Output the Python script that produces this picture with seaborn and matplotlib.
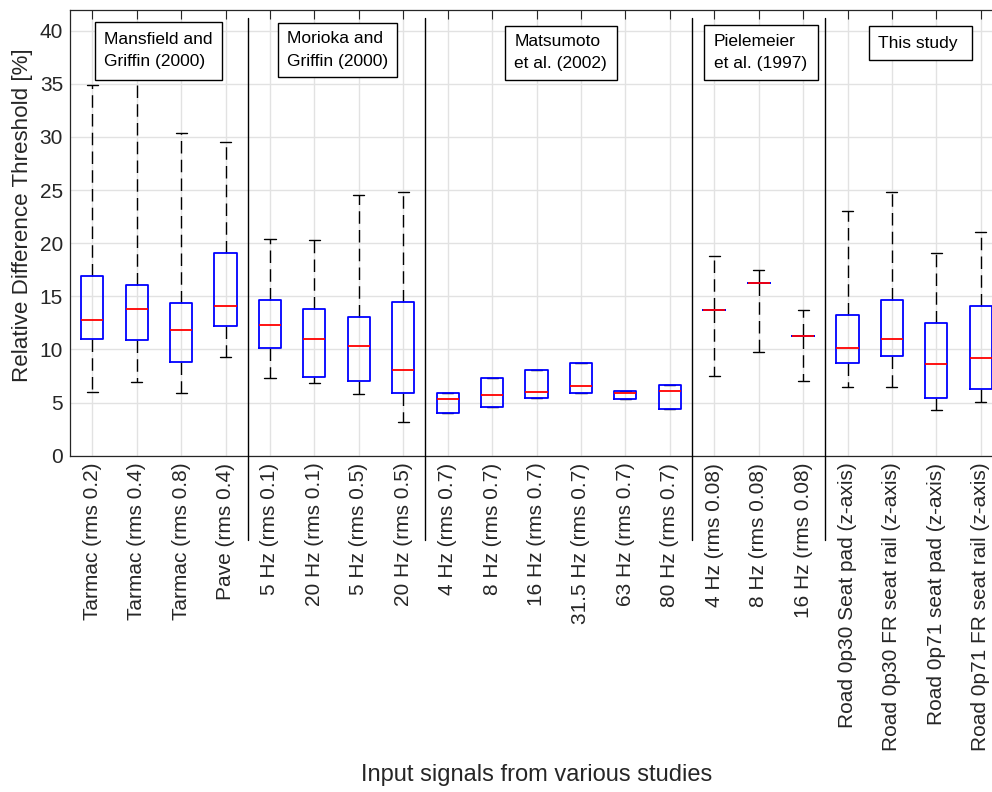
import numpy as np
import pandas as pd
import matplotlib
matplotlib.use("Agg")
import matplotlib.pyplot as plt
import seaborn as sns
from matplotlib.patches import Rectangle

# Input signals, one box per signal
signals = [
    "Tarmac (rms 0.2)", "Tarmac (rms 0.4)", "Tarmac (rms 0.8)", "Pave (rms 0.4)",
    "5 Hz (rms 0.1)", "20 Hz (rms 0.1)", "5 Hz (rms 0.5)", "20 Hz (rms 0.5)",
    "4 Hz (rms 0.7)", "8 Hz (rms 0.7)", "16 Hz (rms 0.7)", "31.5 Hz (rms 0.7)",
    "63 Hz (rms 0.7)", "80 Hz (rms 0.7)",
    "4 Hz (rms 0.08)", "8 Hz (rms 0.08)", "16 Hz (rms 0.08)",
    "Road 0p30 Seat pad (z-axis)", "Road 0p30 FR seat rail (z-axis)",
    "Road 0p71 seat pad (z-axis)", "Road 0p71 FR seat rail (z-axis)",
]

# Five-number summaries of the relative difference threshold [%]
whisker_low = [6.0, 6.9, 5.9, 9.3, 7.3, 6.8, 5.8, 3.2,
               4.0, 4.6, 5.4, 5.9, 5.3, 4.4,
               7.5, 9.8, 7.0, 6.5, 6.45, 4.3, 5.05]
quartile_1 = [11.0, 10.9, 8.8, 12.2, 10.1, 7.4, 7.0, 5.9,
              4.0, 4.6, 5.4, 5.9, 5.3, 4.4,
              13.7, 16.25, 11.3, 8.7, 9.4, 5.45, 6.3]
median = [12.8, 13.8, 11.8, 14.1, 12.3, 11.0, 10.3, 8.1,
          5.3, 5.7, 6.0, 6.6, 5.9, 6.1,
          13.7, 16.25, 11.3, 10.1, 11.0, 8.6, 9.2]
quartile_3 = [16.9, 16.1, 14.4, 19.1, 14.7, 13.8, 13.1, 14.5,
              5.9, 7.3, 8.1, 8.7, 6.1, 6.7,
              13.7, 16.25, 11.3, 13.2, 14.65, 12.5, 14.1]
whisker_high = [34.9, 36.1, 30.4, 29.5, 20.4, 20.3, 24.5, 24.8,
                5.9, 7.3, 8.1, 8.7, 6.1, 6.7,
                18.8, 17.5, 13.7, 23.0, 24.8, 19.1, 21.05]

# Studies: caption and number of signals in each
study_names = ["Mansfield and\nGriffin (2000)", "Morioka and\nGriffin (2000)",
               "Matsumoto\net al. (2002)", "Pielemeier\net al. (1997)", "This study"]
study_sizes = [4, 4, 6, 3, 4]

# Long-form table: five values per signal reproduce its summary exactly
rows = []
for i, s in enumerate(signals):
    for v in (whisker_low[i], quartile_1[i], median[i], quartile_3[i], whisker_high[i]):
        rows.append({"signal": s, "threshold": v})
df = pd.DataFrame(rows)

sns.set_theme(style="white")
plt.rcParams["font.family"] = ["Liberation Sans", "DejaVu Sans"]
text_color = "#262626"

fig = plt.figure(figsize=(9.92, 7.92), dpi=100)
ax = fig.add_axes([0.0706, 0.4246, 0.9405, 0.5634])

sns.boxplot(
    data=df, x="signal", y="threshold", order=signals, ax=ax,
    fill=False, width=0.5, whis=(0, 100), showfliers=False,
    color="blue", linewidth=1.3,
    boxprops=dict(color="blue", linewidth=1.3, zorder=4),
    medianprops=dict(color="red", linewidth=1.3, zorder=5),
    whiskerprops=dict(color="black", linewidth=1.0, linestyle=(0, (9, 4.5)), zorder=3),
    capprops=dict(color="black", linewidth=1.0, zorder=3),
)

ax.set_xlim(-0.5, len(signals) - 0.5)
ax.set_ylim(0, 42)
ax.set_yticks(np.arange(0, 41, 5))
ax.set_xticks(range(len(signals)))
ax.set_xticklabels(signals, rotation=90, fontsize=15, color=text_color)
ax.tick_params(axis="y", labelsize=15, labelcolor=text_color)
ax.tick_params(direction="in", length=6.7, width=0.8, color=text_color,
               top=True, right=True, pad=5)

ax.grid(True, color="#e2e2e2", linewidth=1.0)
ax.set_axisbelow(True)
for sp in ax.spines.values():
    sp.set_color(text_color)
    sp.set_linewidth(0.9)

ax.set_xlabel("Input signals from various studies", fontsize=17, color=text_color)
ax.xaxis.set_label_coords(0.5, -0.716)
ax.xaxis.label.set_va("center")
ax.set_ylabel("Relative Difference Threshold [%]", fontsize=16.1, color=text_color)
ax.yaxis.set_label_coords(-0.0514, 0.538)
ax.yaxis.label.set_va("center")

# Separators between studies, running down through the tick labels
bounds = np.cumsum(study_sizes)[:-1] - 0.5
for b in bounds:
    ax.plot([b, b], [-7.9, 41.2], color="black", linewidth=1.0,
            clip_on=False, zorder=6)

# Study caption boxes: (left, right, top, bottom) in data units, text inset
caption_boxes = [
    (0.07, 2.93, 40.85, 35.36, 0.27),
    (4.19, 6.87, 40.72, 35.64, 4.39),
    (9.28, 11.82, 40.49, 35.36, 9.50),
    (13.78, 16.33, 40.54, 35.36, 13.99),
    (17.48, 19.80, 40.45, 37.24, 17.68),
]
for name, (x0, x1, yt, yb, tx) in zip(study_names, caption_boxes):
    ax.add_patch(Rectangle((x0, yb), x1 - x0, yt - yb, facecolor="white",
                           edgecolor="black", linewidth=1.0, zorder=7))
    ax.text(tx, (yt + yb) / 2, name, ha="left", va="center", fontsize=12.5,
            color="black", linespacing=1.6, zorder=8)

fig.savefig("out.png", dpi=100, facecolor="white")
